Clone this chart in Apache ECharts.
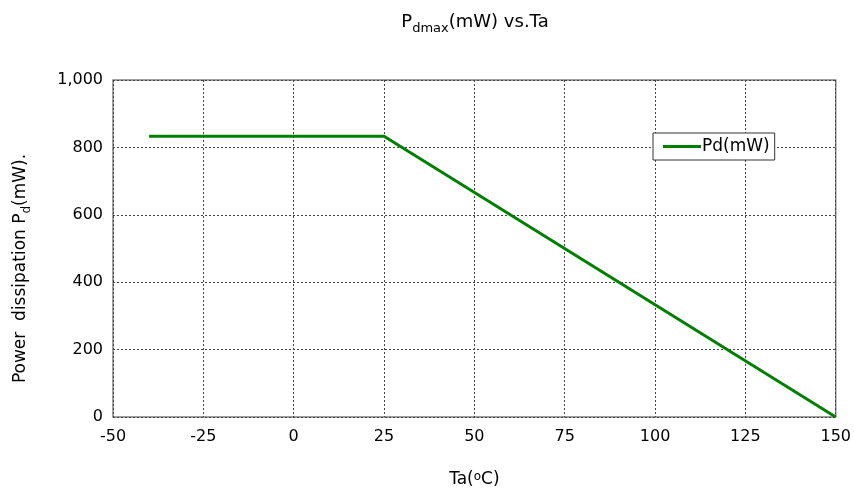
<!DOCTYPE html>
<html><head><meta charset="utf-8">
<script src="https://cdn.jsdelivr.net/npm/echarts@6/dist/echarts.min.js"></script>
<style>html,body{margin:0;padding:0;background:#fff}#c{width:854px;height:496px}</style>
</head><body><div id="c"></div>
<script>
var temps = [-40, 25, 150];
var pdValues = [833, 833, 0];
var xTicks = [-50, -25, 0, 25, 50, 75, 100, 125, 150];
var yTicks = [0, 200, 400, 600, 800, 1000];
var seriesName = 'Pd(mW)';

var FONT = 'DejaVu Sans';
var chart = echarts.init(document.getElementById('c'));
chart.setOption({
  backgroundColor: '#fff',
  animation: false,
  textStyle: {fontFamily: FONT},
  title: {
    text: '{a|P}{s|dmax}{a|(mW) vs.Ta}',
    left: 470, top: 4, textAlign: 'center',
    textStyle: {
      fontWeight: 'normal',
      rich: {
        a: {fontFamily: FONT, fontSize: 18, fontWeight: 'normal', color: '#000', verticalAlign: 'bottom', lineHeight: 22},
        s: {fontFamily: FONT, fontSize: 13, fontWeight: 'normal', color: '#000', verticalAlign: 'bottom', lineHeight: 15, padding: [0,0,-4,0]}
      }
    }
  },
  legend: {
    left: 653, top: 133,
    padding: [5, 5, 5, 10],
    backgroundColor: '#fff',
    borderColor: '#333', borderWidth: 1, borderRadius: 0,
    itemWidth: 38, itemHeight: 3, itemGap: 0,
    icon: 'rect',
    textStyle: {fontFamily: FONT, fontSize: 17, color: '#000', padding: [0,0,0,-4]},
    data: [seriesName]
  },
  grid: {left: 113, top: 80, right: 18, bottom: 79, show: true, borderColor: '#808080', borderWidth: 1.5, backgroundColor: 'transparent'},
  xAxis: {
    type: 'value', min: -50, max: 150, interval: 25,
    name: '{a|Ta(}{s|o}{a|C)}', nameLocation: 'middle', nameGap: 54,
    nameTextStyle: {
      rich: {
        a: {fontFamily: FONT, fontSize: 17, color: '#000', verticalAlign: 'top', lineHeight: 22},
        s: {fontFamily: FONT, fontSize: 12, color: '#000', verticalAlign: 'top', lineHeight: 15, padding: [0,0,6,0]}
      }
    },
    axisLine: {show: false}, axisTick: {show: false},
    axisLabel: {fontFamily: FONT, fontSize: 16, color: '#000', margin: 12,
      customValues: xTicks},
    splitLine: {show: true, lineStyle: {color: '#444', type: [2, 2], width: 1}}
  },
  yAxis: {
    type: 'value', min: 0, max: 1000, interval: 200,
    name: '{a|Power  dissipation P}{s|d}{a|(mW).}', nameLocation: 'middle', nameGap: 84, nameRotate: 90,
    nameTextStyle: {
      padding: [0, 40, 0, 0],
      rich: {
        a: {fontFamily: FONT, fontSize: 17, color: '#000', verticalAlign: 'bottom', lineHeight: 22},
        s: {fontFamily: FONT, fontSize: 12, color: '#000', verticalAlign: 'bottom', lineHeight: 15, padding: [0,0,-4,0]}
      }
    },
    axisLine: {show: false}, axisTick: {show: false},
    axisLabel: {fontFamily: FONT, fontSize: 16, color: '#000', margin: 10,
      formatter: function(v){ return v.toLocaleString('en-US'); }},
    splitLine: {show: true, lineStyle: {color: '#444', type: [2, 2], width: 1}}
  },
  series: [{
    name: seriesName, type: 'line',
    data: temps.map(function(t, i){ return [t, pdValues[i]]; }),
    showSymbol: false, symbol: 'none',
    lineStyle: {color: '#008000', width: 3},
    itemStyle: {color: '#008000'}
  }]
});
</script></body></html>
